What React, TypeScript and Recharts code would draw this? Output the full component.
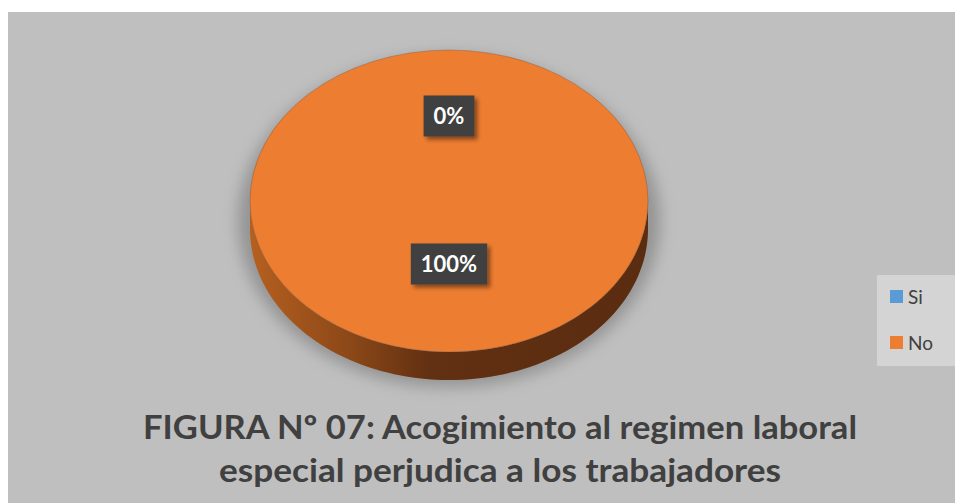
import { PieChart, Pie, Cell, Legend } from "recharts";

const categories = ["Si", "No"];
const values = [0, 100];
const colors = ["#5B9BD5", "#ED7D31"];
const titleLines = [
  "FIGURA Nº 07: Acogimiento al regimen laboral",
  "especial perjudica a los trabajadores",
];
const titleWidths = [714, 562];

const data = categories.map((name, i) => ({ name, value: values[i] }));

const W = 947;
const H = 491;
const CX = 436;
const CY = 184;
const R = 199;
const TILT = 151 / 199;
const DEPTH = 28;
const RAD = Math.PI / 180;

function sample(cx: number, cy: number, rx: number, ry: number, a0: number, a1: number) {
  const n = Math.max(8, Math.ceil(Math.abs(a1 - a0) / 2));
  const pts: string[] = [];
  for (let i = 0; i <= n; i++) {
    const a = (a0 + ((a1 - a0) * i) / n) * RAD;
    pts.push(`${(cx + rx * Math.cos(a)).toFixed(2)} ${(cy - ry * Math.sin(a)).toFixed(2)}`);
  }
  return pts;
}

// elliptical "3D" slice built from the angles recharts computes
function Slice3D(props: any) {
  const { cx, cy, outerRadius, startAngle, endAngle, fill, index } = props;
  const span = Math.abs(endAngle - startAngle);
  if (span < 0.01) return <g />;
  const rx = outerRadius;
  const ry = outerRadius * TILT;
  const lo = Math.min(startAngle, endAngle);
  const hi = Math.max(startAngle, endAngle);

  let top: string;
  if (span >= 359.99) {
    top = `M ${cx - rx} ${cy} A ${rx} ${ry} 0 1 0 ${cx + rx} ${cy} A ${rx} ${ry} 0 1 0 ${cx - rx} ${cy} Z`;
  } else {
    top = `M ${cx} ${cy} L ${sample(cx, cy, rx, ry, lo, hi).join(" L ")} Z`;
  }

  const sides: string[] = [];
  for (let k = -2; k <= 2; k++) {
    const a = Math.max(lo, 360 * k - 180);
    const b = Math.min(hi, 360 * k);
    if (b - a > 0.01) {
      const up = sample(cx, cy, rx, ry, a, b);
      const down = sample(cx, cy + DEPTH, rx, ry, a, b).reverse();
      sides.push(`M ${up.join(" L ")} L ${down.join(" L ")} Z`);
    }
  }

  const gid = `side-${index}`;
  const sid = `shadow-${index}`;
  return (
    <g>
      <defs>
        <linearGradient id={gid} gradientUnits="userSpaceOnUse" x1={cx - rx} y1={0} x2={cx + rx} y2={0}>
          <stop offset="0%" stopColor="#b5601f" />
          <stop offset="25%" stopColor="#8c4818" />
          <stop offset="45%" stopColor="#623012" />
          <stop offset="100%" stopColor="#5a2c10" />
        </linearGradient>
        <filter id={sid} x="-20%" y="-20%" width="140%" height="140%">
          <feGaussianBlur stdDeviation="7" />
        </filter>
      </defs>
      <path
        d={top}
        fill="#6f6f6f"
        opacity={0.55}
        filter={`url(#${sid})`}
        transform={`translate(${cx} ${cy + 20}) scale(1.06 1.1) translate(${-cx} ${-cy})`}
      />
      {sides.map((d, i) => (
        <path key={i} d={d} fill={`url(#${gid})`} />
      ))}
      <path d={top} fill={fill} stroke="rgba(90,60,40,0.35)" strokeWidth={0.8} />
    </g>
  );
}

function renderLabel(props: any) {
  const { cx, cy, midAngle, outerRadius, percent, index } = props;
  const rx = outerRadius;
  const ry = outerRadius * TILT;
  const x = cx + rx * 0.49 * Math.cos(midAngle * RAD);
  const y = cy - ry * 0.49 * Math.sin(midAngle * RAD) - 11;
  const text = `${Math.round(percent * 100)}%`;
  const w = 20 + (text.length - 1) * 12.8 + 18;
  const h = 41;
  return (
    <g key={`lbl-${index}`}>
      <defs>
        <filter id={`lblsh-${index}`} x="-30%" y="-30%" width="160%" height="160%">
          <feDropShadow dx="3" dy="3" stdDeviation="2" floodColor="#000" floodOpacity="0.45" />
        </filter>
      </defs>
      <rect x={x - w / 2} y={y - h / 2} width={w} height={h} fill="#404040" filter={`url(#lblsh-${index})`} />
      <text
        x={x}
        y={y + 8}
        textAnchor="middle"
        fill="#ffffff"
        fontFamily="Lato, sans-serif"
        fontWeight={700}
        fontSize={22}
      >
        {text}
      </text>
    </g>
  );
}

function LegendBox(props: any) {
  const items = [...(props.payload || [])].sort(
    (a: any, b: any) => categories.indexOf(a.value) - categories.indexOf(b.value)
  );
  return (
    <div
      style={{
        background: "#d4d4d4",
        width: 78,
        height: 91,
        boxSizing: "border-box",
        paddingTop: 10,
        paddingLeft: 13,
        fontFamily: "Lato, sans-serif",
        fontSize: 19,
        color: "#404040",
      }}
    >
      {items.map((entry: any) => (
        <div key={entry.value} style={{ display: "flex", alignItems: "center", height: 23, marginBottom: 23 }}>
          <span style={{ display: "inline-block", width: 13, height: 13, background: entry.color, marginRight: 5 }} />
          <span>{entry.value}</span>
        </div>
      ))}
    </div>
  );
}

export default function App() {
  return (
    <div style={{ position: "absolute", left: 8, top: 12, width: 1000, height: H, background: "#bfbfbf" }}>
      <style>{"html,body{margin:0;overflow:hidden}"}</style>
      <PieChart width={W} height={H}>
        <Pie
          data={data}
          dataKey="value"
          nameKey="name"
          cx={CX}
          cy={CY}
          outerRadius={R}
          startAngle={90}
          endAngle={-270}
          stroke="none"
          shape={Slice3D}
          label={renderLabel}
          labelLine={false}
          isAnimationActive={false}
        >
          {data.map((d, i) => (
            <Cell key={d.name} fill={colors[i]} />
          ))}
        </Pie>
        <Legend
          layout="vertical"
          content={<LegendBox />}
          wrapperStyle={{ position: "absolute", left: 869, top: 263, width: 78, height: 91 }}
        />
      </PieChart>
      <svg width={W} height={H} style={{ position: "absolute", left: 0, top: 0, pointerEvents: "none" }}>
        {titleLines.map((line, i) => (
          <text
            key={i}
            x={492}
            y={427 + i * 43}
            textAnchor="middle"
            fill="#404040"
            fontFamily="Lato, sans-serif"
            fontWeight={700}
            fontSize={33}
            textLength={titleWidths[i]}
            lengthAdjust="spacingAndGlyphs"
          >
            {line}
          </text>
        ))}
      </svg>
    </div>
  );
}
